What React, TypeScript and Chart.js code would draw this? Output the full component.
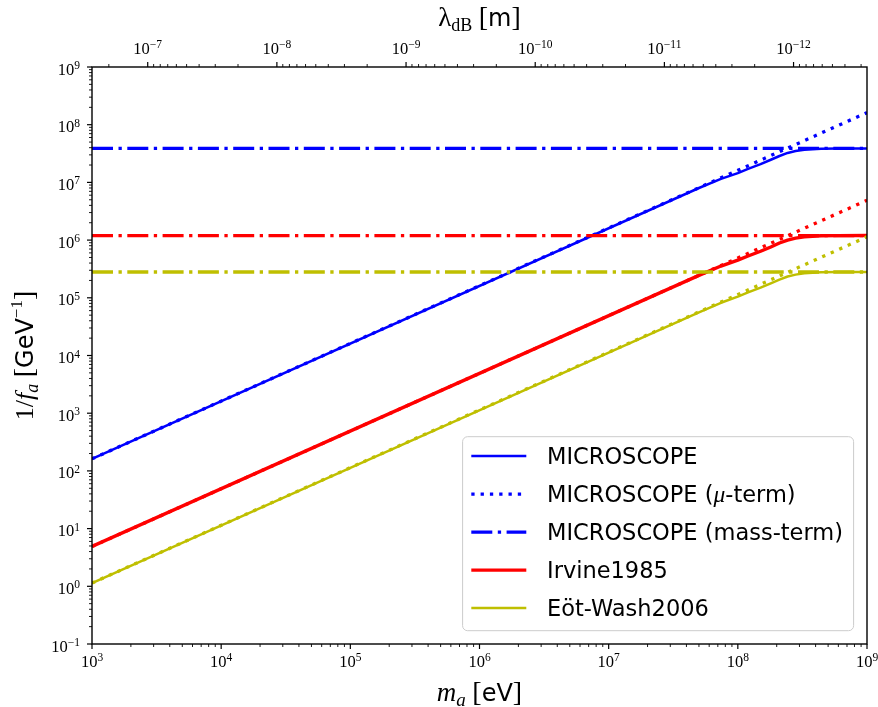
import React, { useEffect, useRef } from 'react';
import { Chart, registerables } from 'chart.js';

Chart.register(...registerables);

// ---------- data ----------
const MASS_RANGE_EV = [1e3, 1e9];
const KNEE_MASS_EV = [1e3, 5e7, 7.4e7, 1e8, 1.2e8, 1.5e8, 1.8e8, 2.1e8, 2.43e8, 2.8e8, 3.27e8, 4.4e8, 6e8, 1e9];

const MICROSCOPE = [162, 8.0e6, 1.15e7, 1.45e7, 1.72e7, 2.07e7, 2.47e7, 2.87e7, 3.24e7, 3.5e7, 3.69e7, 3.84e7, 3.87e7, 3.88e7];
const MICROSCOPE_MU = [162, 1.62e8];
const MICROSCOPE_MASS = [3.88e7, 3.88e7];

const IRVINE = [4.9, 2.45e5, 3.55e5, 4.5e5, 5.3e5, 6.4e5, 7.6e5, 8.9e5, 1.0e6, 1.08e6, 1.14e6, 1.19e6, 1.197e6, 1.2e6];
const IRVINE_MU = [4.9, 4.9e6];
const IRVINE_MASS = [1.2e6, 1.2e6];

const EOTWASH = [1.14, 5.6e4, 8.2e4, 1.05e5, 1.24e5, 1.5e5, 1.78e5, 2.07e5, 2.34e5, 2.52e5, 2.66e5, 2.77e5, 2.79e5, 2.8e5];
const EOTWASH_MU = [1.14, 1.14e6];
const EOTWASH_MASS = [2.8e5, 2.8e5];

const LAMBDA_TIMES_MASS = 2.7e-4; // λ_dB · m_a  [m·eV]

const X_TICKS = [1e3, 1e4, 1e5, 1e6, 1e7, 1e8, 1e9];
const Y_TICKS = [1e-1, 1e0, 1e1, 1e2, 1e3, 1e4, 1e5, 1e6, 1e7, 1e8, 1e9];
const TOP_TICKS = [1e-7, 1e-8, 1e-9, 1e-10, 1e-11, 1e-12];

// ---------- helpers ----------
const pts = (xs: number[], ys: number[]) => xs.map((x, i) => ({ x, y: ys[i] }));
const expOf = (v: number) => Math.round(Math.log10(v));

const BLUE = '#0000ff';
const RED = '#ff0000';
const OLIVE = '#bfbf00';
const DOT = [3.3, 6.0];
const DASHDOT = [21, 5.5, 3.3, 5.5];

const SERIF = "'Liberation Serif', 'DejaVu Serif', serif";
const SANS = "'DejaVu Sans', 'Liberation Sans', sans-serif";

type Seg = { t: string; font: string; dy?: number };
function richWidth(ctx: CanvasRenderingContext2D, segs: Seg[]) {
  let w = 0;
  for (const s of segs) {
    ctx.font = s.font;
    w += ctx.measureText(s.t).width;
  }
  return w;
}
function drawRich(ctx: CanvasRenderingContext2D, segs: Seg[], x: number, y: number, align: 'center' | 'left' | 'right') {
  const w = richWidth(ctx, segs);
  let cx = align === 'center' ? x - w / 2 : align === 'right' ? x - w : x;
  ctx.textAlign = 'left';
  ctx.textBaseline = 'alphabetic';
  for (const s of segs) {
    ctx.font = s.font;
    ctx.fillText(s.t, cx, y + (s.dy || 0));
    cx += ctx.measureText(s.t).width;
  }
}
const powSegs = (v: number): Seg[] => [
  { t: '10', font: `16.5px ${SERIF}` },
  { t: String(expOf(v)).replace('-', '−'), font: `11.5px ${SERIF}`, dy: -5.5 },
];

function logValues(min: number, max: number) {
  const out: { v: number; major: boolean }[] = [];
  const lo = Math.floor(Math.log10(Math.min(min, max)));
  const hi = Math.ceil(Math.log10(Math.max(min, max)));
  const a = Math.min(min, max) * 0.9999;
  const b = Math.max(min, max) * 1.0001;
  for (let e = lo; e <= hi; e++) {
    for (let k = 1; k < 10; k++) {
      const v = k * Math.pow(10, e);
      if (v >= a && v <= b) out.push({ v, major: k === 1 });
    }
  }
  return out;
}

const framePlugin = {
  id: 'frameTicksTitlesLegend',
  afterDraw(chart: any) {
    const ctx: CanvasRenderingContext2D = chart.ctx;
    const ca = chart.chartArea;
    ctx.save();
    // frame
    ctx.strokeStyle = '#000';
    ctx.lineWidth = 1.4;
    ctx.strokeRect(ca.left, ca.top, ca.right - ca.left, ca.bottom - ca.top);

    // tick marks
    const drawTicks = (scale: any, side: 'bottom' | 'top' | 'left') => {
      for (const { v, major } of logValues(scale.min, scale.max)) {
        const p = scale.getPixelForValue(v);
        const len = major ? 5 : 3;
        ctx.lineWidth = major ? 1.2 : 0.9;
        ctx.beginPath();
        if (side === 'bottom') {
          ctx.moveTo(p, ca.bottom);
          ctx.lineTo(p, ca.bottom + len);
        } else if (side === 'top') {
          ctx.moveTo(p, ca.top);
          ctx.lineTo(p, ca.top - len);
        } else {
          ctx.moveTo(ca.left, p);
          ctx.lineTo(ca.left - len, p);
        }
        ctx.stroke();
      }
    };
    drawTicks(chart.scales.x, 'bottom');
    drawTicks(chart.scales.x2, 'top');
    drawTicks(chart.scales.y, 'left');

    // tick labels (positions from the library's scales)
    ctx.fillStyle = '#000';
    for (const t of chart.scales.x.ticks) {
      drawRich(ctx, powSegs(t.value), chart.scales.x.getPixelForValue(t.value), ca.bottom + 22.5, 'center');
    }
    for (const t of chart.scales.x2.ticks) {
      drawRich(ctx, powSegs(t.value), chart.scales.x2.getPixelForValue(t.value), ca.top - 13.5, 'center');
    }
    for (const t of chart.scales.y.ticks) {
      drawRich(ctx, powSegs(t.value), ca.left - 12, chart.scales.y.getPixelForValue(t.value) + 7.5, 'right');
    }

    // axis titles
    const cx = (ca.left + ca.right) / 2;
    drawRich(
      ctx,
      [
        { t: 'm', font: `italic 27px ${SERIF}` },
        { t: 'a', font: `italic 19px ${SERIF}`, dy: 5 },
        { t: ' ', font: `26px ${SERIF}` },
        { t: '[', font: `28px ${SERIF}` },
        { t: 'eV', font: `24px ${SANS}` },
        { t: ']', font: `28px ${SERIF}` },
      ],
      cx,
      ca.bottom + 57,
      'center'
    );
    drawRich(
      ctx,
      [
        { t: 'λ', font: `27px ${SERIF}` },
        { t: 'dB', font: `18px ${SERIF}`, dy: 5 },
        { t: ' ', font: `26px ${SERIF}` },
        { t: '[', font: `28px ${SERIF}` },
        { t: 'm', font: `24px ${SANS}` },
        { t: ']', font: `28px ${SERIF}` },
      ],
      cx,
      ca.top - 41,
      'center'
    );
    ctx.save();
    ctx.translate(ca.left - 59, (ca.top + ca.bottom) / 2);
    ctx.rotate(-Math.PI / 2);
    drawRich(
      ctx,
      [
        { t: '1/', font: `26px ${SERIF}` },
        { t: 'f', font: `italic 26px ${SERIF}` },
        { t: 'a', font: `italic 18px ${SERIF}`, dy: 5 },
        { t: ' ', font: `26px ${SERIF}` },
        { t: '[', font: `28px ${SERIF}` },
        { t: 'GeV', font: `24px ${SANS}` },
        { t: '−1', font: `17px ${SERIF}`, dy: -11 },
        { t: ']', font: `28px ${SERIF}` },
      ],
      0,
      0,
      'center'
    );
    ctx.restore();

    // legend
    const bw = 391;
    const bh = 194;
    const bx = ca.right - 13.4 - bw;
    const by = ca.bottom - 13.3 - bh;
    ctx.beginPath();
    (ctx as any).roundRect(bx, by, bw, bh, 5);
    ctx.fillStyle = 'rgba(255,255,255,0.8)';
    ctx.fill();
    ctx.strokeStyle = '#cccccc';
    ctx.lineWidth = 1;
    ctx.stroke();

    const entries = chart.data.datasets.filter((d: any) => d.label);
    const fs = 22.5;
    entries.forEach((d: any, i: number) => {
      const ry = by + 19.4 + i * 38;
      ctx.save();
      ctx.strokeStyle = d.borderColor;
      ctx.lineWidth = d.borderWidth;
      ctx.setLineDash(d.borderDash || []);
      ctx.lineCap = 'butt';
      ctx.beginPath();
      ctx.moveTo(bx + 8.7, ry);
      ctx.lineTo(bx + 63.7, ry);
      ctx.stroke();
      ctx.restore();
      ctx.fillStyle = '#000';
      const parts = String(d.label).split('μ');
      const segs: Seg[] = [];
      parts.forEach((p: string, k: number) => {
        if (k > 0) segs.push({ t: 'μ', font: `italic ${fs + 1}px ${SERIF}` });
        if (p) segs.push({ t: p, font: `${fs}px ${SANS}` });
      });
      drawRich(ctx, segs, bx + 84.4, ry + 0.36 * fs, 'left');
    });
    ctx.restore();
  },
};

export default function App() {
  const ref = useRef<HTMLCanvasElement | null>(null);

  useEffect(() => {
    document.body.style.margin = '0';
    const canvas = ref.current;
    if (!canvas) return;

    const raw = [
      { label: 'MICROSCOPE', data: pts(KNEE_MASS_EV, MICROSCOPE), borderColor: BLUE, borderWidth: 2.5 },
      { label: 'MICROSCOPE (μ-term)', data: pts(MASS_RANGE_EV, MICROSCOPE_MU), borderColor: BLUE, borderWidth: 3.3, borderDash: DOT },
      { label: 'MICROSCOPE (mass-term)', data: pts(MASS_RANGE_EV, MICROSCOPE_MASS), borderColor: BLUE, borderWidth: 3.3, borderDash: DASHDOT },
      { label: 'Irvine1985', data: pts(KNEE_MASS_EV, IRVINE), borderColor: RED, borderWidth: 3.4 },
      { label: '', data: pts(MASS_RANGE_EV, IRVINE_MU), borderColor: RED, borderWidth: 3.3, borderDash: DOT },
      { label: '', data: pts(MASS_RANGE_EV, IRVINE_MASS), borderColor: RED, borderWidth: 3.3, borderDash: DASHDOT },
      { label: 'Eöt-Wash2006', data: pts(KNEE_MASS_EV, EOTWASH), borderColor: OLIVE, borderWidth: 2.5 },
      { label: '', data: pts(MASS_RANGE_EV, EOTWASH_MU), borderColor: OLIVE, borderWidth: 3.3, borderDash: DOT },
      { label: '', data: pts(MASS_RANGE_EV, EOTWASH_MASS), borderColor: OLIVE, borderWidth: 3.3, borderDash: DASHDOT },
    ];
    const datasets = raw.map((d: any, i) => ({
      label: d.label,
      data: d.data,
      borderColor: d.borderColor,
      backgroundColor: d.borderColor,
      borderWidth: d.borderWidth,
      borderDash: d.borderDash || [],
      borderJoinStyle: 'round',
      showLine: true,
      pointRadius: 0,
      pointHoverRadius: 0,
      fill: false,
      tension: 0,
      order: -i,
    }));

    const hiddenTicks = { display: false, autoSkip: false };
    const chart = new Chart(canvas, {
      type: 'scatter',
      data: { datasets } as any,
      options: {
        responsive: false,
        animation: false,
        events: [],
        layout: { padding: { left: 0, right: 11, top: 0, bottom: 0 } },
        plugins: { legend: { display: false }, tooltip: { enabled: false } },
        scales: {
          x: {
            type: 'logarithmic',
            position: 'bottom',
            min: MASS_RANGE_EV[0],
            max: MASS_RANGE_EV[1],
            grid: { display: false },
            border: { display: false },
            ticks: hiddenTicks,
            afterBuildTicks: (s: any) => { s.ticks = X_TICKS.map((value) => ({ value })); },
            afterFit: (s: any) => { s.height = 63; s.paddingLeft = 0; s.paddingRight = 0; },
          },
          x2: {
            type: 'logarithmic',
            position: 'top',
            axis: 'x',
            min: LAMBDA_TIMES_MASS / MASS_RANGE_EV[1],
            max: LAMBDA_TIMES_MASS / MASS_RANGE_EV[0],
            reverse: true,
            grid: { display: false },
            border: { display: false },
            ticks: hiddenTicks,
            afterBuildTicks: (s: any) => { s.ticks = TOP_TICKS.map((value) => ({ value })); },
            afterFit: (s: any) => { s.height = 67; s.paddingLeft = 0; s.paddingRight = 0; },
          },
          y: {
            type: 'logarithmic',
            position: 'left',
            min: Y_TICKS[0],
            max: Y_TICKS[Y_TICKS.length - 1],
            grid: { display: false },
            border: { display: false },
            ticks: hiddenTicks,
            afterBuildTicks: (s: any) => { s.ticks = Y_TICKS.map((value) => ({ value })); },
            afterFit: (s: any) => { s.width = 92; s.paddingTop = 0; s.paddingBottom = 0; },
          },
        },
      } as any,
      plugins: [framePlugin],
    });
    return () => chart.destroy();
  }, []);

  return <canvas ref={ref} width={878} height={707} style={{ display: 'block' }} />;
}
